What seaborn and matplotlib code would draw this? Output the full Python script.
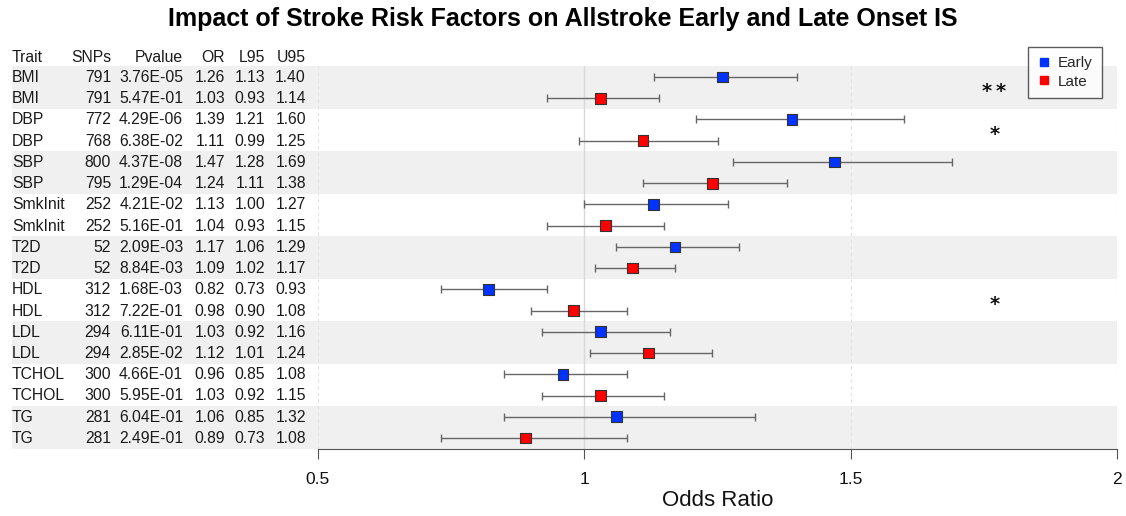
import numpy as np
import pandas as pd
import matplotlib
matplotlib.use("Agg")
import matplotlib.pyplot as plt
import seaborn as sns
from matplotlib.lines import Line2D

traits = ["BMI", "BMI", "DBP", "DBP", "SBP", "SBP", "SmkInit", "SmkInit", "T2D", "T2D",
          "HDL", "HDL", "LDL", "LDL", "TCHOL", "TCHOL", "TG", "TG"]
onset = ["Early", "Late"] * 9
snps = [791, 791, 772, 768, 800, 795, 252, 252, 52, 52, 312, 312, 294, 294, 300, 300, 281, 281]
pvalues = [3.76e-05, 5.47e-01, 4.29e-06, 6.38e-02, 4.37e-08, 1.29e-04, 4.21e-02, 5.16e-01,
           2.09e-03, 8.84e-03, 1.68e-03, 7.22e-01, 6.11e-01, 2.85e-02, 4.66e-01, 5.95e-01,
           6.04e-01, 2.49e-01]
odds = [1.26, 1.03, 1.39, 1.11, 1.47, 1.24, 1.13, 1.04, 1.17, 1.09, 0.82, 0.98, 1.03, 1.12,
        0.96, 1.03, 1.06, 0.89]
l95 = [1.13, 0.93, 1.21, 0.99, 1.28, 1.11, 1.00, 0.93, 1.06, 1.02, 0.73, 0.90, 0.92, 1.01,
       0.85, 0.92, 0.85, 0.73]
u95 = [1.40, 1.14, 1.60, 1.25, 1.69, 1.38, 1.27, 1.15, 1.29, 1.17, 0.93, 1.08, 1.16, 1.24,
       1.08, 1.15, 1.32, 1.08]
star_traits = ["BMI", "DBP", "HDL"]
star_labels = ["**", "*", "*"]
x_ticks = [0.5, 1, 1.5, 2]
x_tick_labels = ["0.5", "1", "1.5", "2"]

df = pd.DataFrame({"Trait": traits, "Onset": onset, "SNPs": snps, "Pvalue": pvalues,
                   "OR": odds, "L95": l95, "U95": u95})
df["row"] = np.arange(len(df))

sns.set_style("white")
plt.rcParams["font.family"] = ["Liberation Sans", "DejaVu Sans"]

W, H = 1126, 516
fig = plt.figure(figsize=(W / 100, H / 100), dpi=100)

top_px, bot_px = 66.4, 448.6
left_bg, right_px = 12, 1117
ax_left = 318
bottom = (H - bot_px) / H
height = (bot_px - top_px) / H

# background axes (bands + table)
axbg = fig.add_axes([left_bg / W, bottom, (right_px - left_bg) / W, height])
axbg.set_xlim(0, 1)
axbg.set_ylim(len(df) - 0.5, -0.5)
axbg.axis("off")
for k in range(0, len(df), 4):
    axbg.axhspan(k - 0.5, k + 1.5, color="#f0f0f0", lw=0, zorder=0)

# table text
cols = [("Trait", 12, "left"), ("SNPs", 111, "right"), ("Pvalue", 183, "right"),
        ("OR", 225, "right"), ("L95", 265, "right"), ("U95", 306, "right")]
fs = 11.3
txtc = "#1a1a1a"
for name, xp, ha in cols:
    fig.text(xp / W, (H - 57) / H, name, ha=ha, va="center", fontsize=fs, color=txtc)
for i, r in df.iterrows():
    vals = [r["Trait"], f"{r['SNPs']}", f"{r['Pvalue']:.2E}", f"{r['OR']:.2f}",
            f"{r['L95']:.2f}", f"{r['U95']:.2f}"]
    for (name, xp, ha), v in zip(cols, vals):
        xf = (xp - left_bg) / (right_px - left_bg)
        axbg.text(xf, r["row"] + 0.02, v, ha=ha, va="center", fontsize=fs, color=txtc)

# main axes
ax = fig.add_axes([ax_left / W, bottom, (right_px - ax_left) / W, height], sharey=axbg)
ax.patch.set_alpha(0)
ax.set_xlim(0.5, 2)
ax.set_ylim(len(df) - 0.5, -0.5)

for xv in x_ticks:
    if xv == 1:
        ax.axvline(xv, color="#d8d8d8", lw=1.0, zorder=1)
    else:
        ax.axvline(xv, color="#e2e2e2", lw=0.8, ls=(0, (3, 3)), zorder=1)

ax.errorbar(df["OR"], df["row"], xerr=[df["OR"] - df["L95"], df["U95"] - df["OR"]],
            fmt="none", ecolor="#666666", elinewidth=1.0, capsize=3, capthick=1.0, zorder=2)
sns.scatterplot(data=df, x="OR", y="row", hue="Onset", palette={"Early": "#0033ff", "Late": "#ff0000"},
                marker="s", s=60, edgecolor="#333333", linewidth=0.8, legend=False, ax=ax, zorder=3)

for t, s in zip(star_traits, star_labels):
    rows = df.loc[df["Trait"] == t, "row"]
    ax.text(1.77, rows.mean() + 0.2, "\u2009".join(s), ha="center", va="center", fontsize=14,
            fontweight="bold", color="#111111", family="DejaVu Sans")

ax.set_xticks(x_ticks)
ax.set_xticklabels(x_tick_labels, fontsize=12.5, color="#111111")
ax.set_yticks([])
ax.set_xlabel("Odds Ratio", fontsize=16, labelpad=2, color="#111111")
ax.set_ylabel("")
sns.despine(ax=ax, left=True, top=True, right=True)
ax.spines["bottom"].set_color("#555555")
ax.tick_params(axis="x", bottom=True, direction="out", length=7, width=0.8,
               color="#555555", pad=10)

handles = [Line2D([0], [0], marker="s", ls="none", color="#0033ff", markersize=6, label="Early"),
           Line2D([0], [0], marker="s", ls="none", color="#ff0000", markersize=6, label="Late")]
leg = fig.legend(handles=handles, loc="upper right", bbox_to_anchor=(1102 / W, 1 - 47 / H),
                 borderaxespad=0, fontsize=11, frameon=True, fancybox=False,
                 handletextpad=0.4, handlelength=1.0, borderpad=0.6, labelspacing=0.3)
leg.get_frame().set_edgecolor("#333333")
leg.get_frame().set_linewidth(1.0)

fig.suptitle("Impact of Stroke Risk Factors on Allstroke Early and Late Onset IS",
             fontsize=18, fontweight="bold", y=1 - 19 / H, va="center", color="black")

fig.savefig("out.png", dpi=100)
